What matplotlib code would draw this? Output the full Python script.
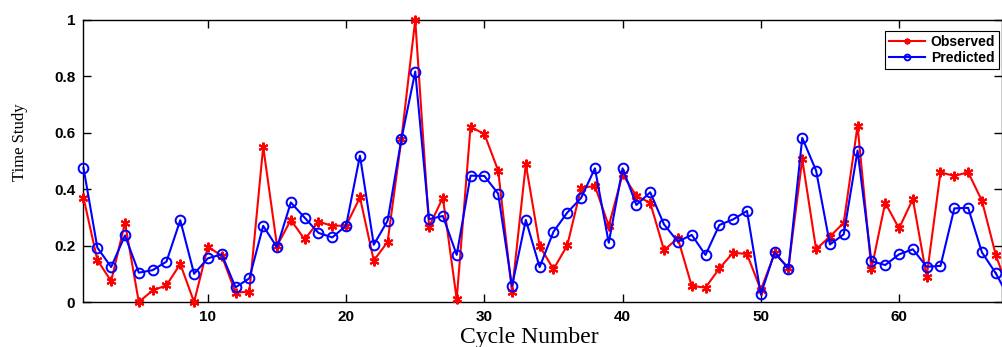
import numpy as np
import matplotlib
matplotlib.use("Agg")
import matplotlib.pyplot as plt

# cycle numbers (68th point lies just past the right edge, only its line shows)
cycles = np.arange(1, 69)

observed = [0.370, 0.149, 0.074, 0.281, 0.000, 0.041, 0.059, 0.135, 0.000, 0.196,
            0.164, 0.033, 0.037, 0.551, 0.199, 0.291, 0.222, 0.285, 0.270, 0.271,
            0.371, 0.147, 0.213, 0.578, 1.000, 0.267, 0.370, 0.010, 0.621, 0.596,
            0.466, 0.037, 0.489, 0.199, 0.116, 0.201, 0.405, 0.411, 0.270, 0.453,
            0.376, 0.352, 0.184, 0.226, 0.057, 0.051, 0.119, 0.175, 0.170, 0.043,
            0.172, 0.122, 0.506, 0.187, 0.232, 0.281, 0.625, 0.116, 0.352, 0.261,
            0.365, 0.090, 0.460, 0.447, 0.460, 0.359, 0.167, 0.030]

predicted = [0.476, 0.193, 0.124, 0.236, 0.104, 0.113, 0.143, 0.290, 0.100, 0.155,
             0.169, 0.052, 0.084, 0.270, 0.194, 0.353, 0.299, 0.245, 0.229, 0.271,
             0.519, 0.203, 0.288, 0.578, 0.817, 0.294, 0.305, 0.167, 0.448, 0.447,
             0.384, 0.056, 0.291, 0.124, 0.249, 0.317, 0.369, 0.474, 0.210, 0.474,
             0.344, 0.389, 0.275, 0.214, 0.238, 0.167, 0.273, 0.293, 0.323, 0.027,
             0.176, 0.118, 0.582, 0.466, 0.204, 0.240, 0.537, 0.145, 0.131, 0.169,
             0.187, 0.125, 0.128, 0.332, 0.334, 0.176, 0.102, 0.010]

xticks = [10, 20, 30, 40, 50, 60]
yticks = [0, 0.2, 0.4, 0.6, 0.8, 1]
ytick_labels = ["0", "0.2", "0.4", "0.6", "0.8", "1"]

W, H = 1003, 347
fig = plt.figure(figsize=(W / 100, H / 100), dpi=100)
ax = fig.add_axes([83.5 / W, 1 - 302 / H, (1002 - 83.5) / W, (302 - 20) / H])

n = 67
star = (6, 2, 0)
ax.plot(cycles[:n], observed[:n], color="red", lw=1.5, marker=star, ms=7,
        mew=1.5, clip_on=False, zorder=3, label="Observed")
ax.plot(cycles[:n], predicted[:n], color="blue", lw=1.5, marker="o", ms=7,
        mfc="none", mew=1.4, clip_on=False, zorder=4, label="Predicted")
# tails running off the right edge
ax.plot(cycles[n - 1:], observed[n - 1:], color="red", lw=1.5, zorder=3)
ax.plot(cycles[n - 1:], predicted[n - 1:], color="blue", lw=1.5, zorder=4)

ax.set_xlim(1, 67.45)
ax.set_ylim(0, 1)
ax.set_xticks(xticks)
ax.set_yticks(yticks)
ax.set_yticklabels(ytick_labels)
ax.tick_params(direction="in", top=True, right=True, length=6, width=1,
               labelsize=11, pad=6)
for lab in ax.get_xticklabels() + ax.get_yticklabels():
    lab.set_fontfamily("Liberation Sans")
    lab.set_fontweight("bold")
for s in ax.spines.values():
    s.set_linewidth(1.0)

fig.text(529.5 / W, 1 - 338 / H, "Cycle Number", family="Liberation Serif",
         fontsize=17, ha="center", va="center")
fig.text(20.5 / W, 1 - 142 / H, "Time Study", family="Liberation Serif",
         fontsize=12, rotation=90, ha="center", va="center")

leg = ax.legend(loc="upper right", bbox_to_anchor=(999.5 / W, 1 - 30.5 / H),
                bbox_transform=fig.transFigure, markerscale=0.6,
                prop={"family": "Liberation Sans", "weight": "bold", "size": 10},
                fancybox=False, framealpha=1, edgecolor="black",
                handlelength=2.6, borderpad=0.3, labelspacing=0.15,
                handletextpad=0.4, borderaxespad=0)
leg.get_frame().set_linewidth(0.8)

fig.savefig("out.png", dpi=100)
